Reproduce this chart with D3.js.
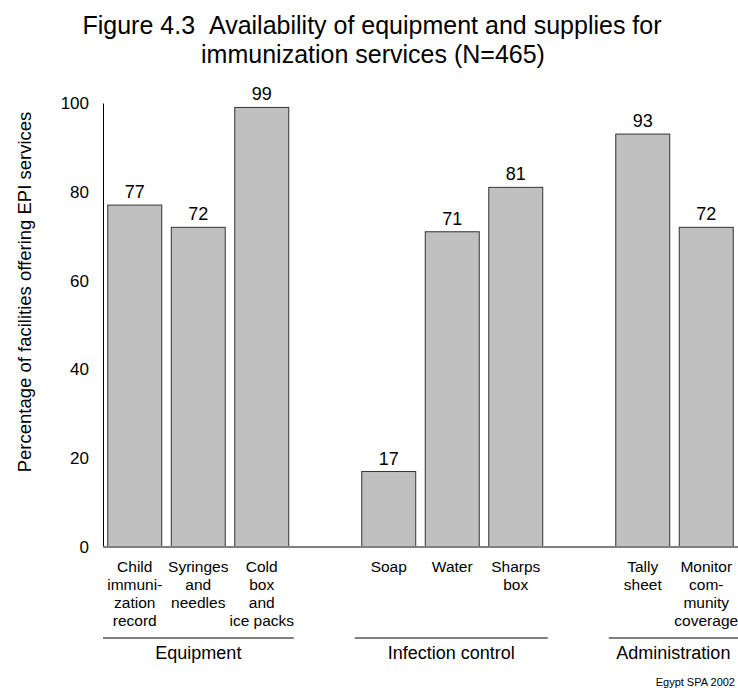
<!DOCTYPE html>
<html><head><meta charset="utf-8">
<script src="https://cdn.jsdelivr.net/npm/d3@7"></script>
<style>body{margin:0;background:#fff}svg{display:block}text{font-family:Arial,"Liberation Sans",sans-serif;fill:#000}</style>
</head><body><svg id="c" width="738" height="693"></svg>
<script>
const categories = [
  ["Child","immuni-","zation","record"],
  ["Syringes","and","needles"],
  ["Cold","box","and","ice packs"],
  null,
  ["Soap"],
  ["Water"],
  ["Sharps","box"],
  null,
  ["Tally","sheet"],
  ["Monitor","com-","munity","coverage"]
];
const values = [77, 72, 99, null, 17, 71, 81, null, 93, 72];
const groups = ["Equipment","Infection control","Administration"];
const groupSpans = [[0,2],[4,6],[8,9]];
const yTicks = [0,20,40,60,80,100];

const svg = d3.select("#c");
const x = d3.scaleBand().domain(d3.range(values.length)).range([103,738]).paddingInner(0.15).paddingOuter(0.075);
const y = d3.scaleLinear().domain([0,100]).range([547,103]);

// title
svg.append("text").attr("x",372).attr("y",34).attr("text-anchor","middle").style("font-size","25px")
  .text("Figure 4.3\u00a0\u00a0Availability of equipment and supplies for");
svg.append("text").attr("x",373).attr("y",63).attr("text-anchor","middle").style("font-size","25px")
  .text("immunization services (N=465)");

// y axis
const yAxis = d3.axisLeft(y).tickValues(yTicks).tickSize(0).tickPadding(14);
const gy = svg.append("g").attr("transform","translate(103,0)").call(yAxis);
gy.select(".domain").attr("stroke","#000").attr("stroke-width",1);
gy.selectAll("text").style("font-size","17px").style("font-family","Arial, 'Liberation Sans', sans-serif");

svg.append("text").attr("transform","translate(31,292) rotate(-90)").attr("text-anchor","middle")
  .style("font-size","18.5px").text("Percentage of facilities offering EPI services");

// bars
const data = values.map((v,i)=>({i,v})).filter(d=>d.v!=null);
svg.selectAll("rect.bar").data(data).join("rect").attr("class","bar")
  .attr("x",d=>x(d.i)).attr("width",x.bandwidth())
  .attr("y",d=>y(d.v)).attr("height",d=>y(0)-y(d.v))
  .attr("fill","#c0c0c0").attr("stroke","#333").attr("stroke-width",1);

svg.selectAll("text.val").data(data).join("text").attr("class","val")
  .attr("x",d=>x(d.i)+x.bandwidth()/2).attr("y",d=>y(d.v)-7)
  .attr("text-anchor","middle").style("font-size","18px").text(d=>d.v);

// baseline
svg.append("line").attr("x1",103).attr("x2",738).attr("y1",y(0)).attr("y2",y(0))
  .attr("stroke","#808080").attr("stroke-width",2);

// category labels
categories.forEach((lines,i)=>{
  if(!lines) return;
  const t = svg.append("text").attr("text-anchor","middle").style("font-size","15.5px");
  lines.forEach((l,k)=>{
    t.append("tspan").attr("x",x(i)+x.bandwidth()/2).attr("y",572+k*18).text(l);
  });
});

// group lines and labels
groupSpans.forEach((s,gi)=>{
  const x1 = gi===0 ? 103 : x(s[0]) - 7;
  const x2 = Math.min(738, x(s[1]) + x.bandwidth() + 5);
  svg.append("line").attr("x1",x1).attr("x2",x2).attr("y1",638).attr("y2",638).attr("stroke","#000").attr("stroke-width",1);
  svg.append("text").attr("x",(x1+x2)/2).attr("y",659).attr("text-anchor","middle").style("font-size","18px").text(groups[gi]);
});

svg.append("text").attr("x",735).attr("y",686).attr("text-anchor","end").style("font-size","11px").text("Egypt SPA 2002");
</script></body></html>
